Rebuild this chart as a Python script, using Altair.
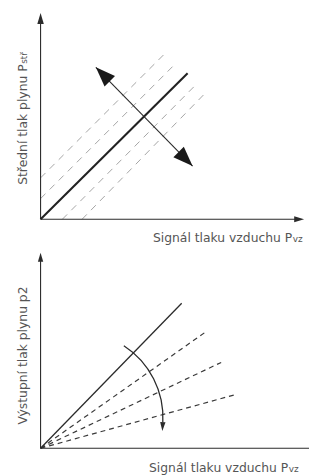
import altair as alt
import pandas as pd
import numpy as np

# ---------------- data (diagram units, origin = axes crossing, y up) ----------------
# Upper diagram: mean gas pressure vs. air pressure signal
top_axis_x_tip = 267
top_axis_y_tip = 209
top_solid_x = [0, 149]
top_solid_y = [0, 148]
top_dash_x0 = [0, 0, 22, 42]
top_dash_y0 = [42, 21, 0, 0]
top_dash_x1 = [125, 137, 159, 168]
top_dash_y1 = [167, 158, 138, 129]
top_shift_x = [56, 154]          # double-headed arrow (parallel shift)
top_shift_y = [154, 54]
top_xlabel, top_xlabel_sub = "Signál tlaku vzduchu P", "vz"
top_ylabel, top_ylabel_sub = "Střední tlak plynu P", "stř"

# Lower diagram: outlet gas pressure vs. air pressure signal
bot_axis_x_tip = 272
bot_axis_y_tip = 198
bot_solid_x = [0, 143]
bot_solid_y = [0, 147]
bot_dash_x1 = [166, 183, 196]
bot_dash_y1 = [117, 87, 54]
bot_arc_center = [37, 31]
bot_arc_radius = 87
bot_arc_deg = [33, 93]           # clockwise from 12 o'clock
bot_xlabel, bot_xlabel_sub = "Signál tlaku vzduchu P", "vz"
bot_ylabel = "Výstupní tlak plynu p2"

# ---------------- layout ----------------
W = 302
TOP_H, BOT_H = 236, 232
X_DOM = [-33, 269]
TOP_Y_DOM = [-25, 211]
BOT_Y_DOM = [-26, 206]

AX = "#2b2b2b"
TXT = "#555555"
FONT = "DejaVu Sans"
ARROW = "M0,0L0.6,2L-0.6,2Z"        # tip at origin, pointing up
ARROW_WIDE = "M0,0L0.75,2L-0.75,2Z"


def sx():
    return alt.Scale(domain=X_DOM, nice=False, zero=False)


def sy(dom):
    return alt.Scale(domain=dom, nice=False, zero=False)


def rules(df, ydom, **kw):
    return alt.Chart(df).mark_rule(**kw).encode(
        x=alt.X("x:Q", scale=sx(), axis=None),
        y=alt.Y("y:Q", scale=sy(ydom), axis=None),
        x2="x2:Q", y2="y2:Q")


def heads(df, ydom, shape=ARROW, color=AX):
    return alt.Chart(df).mark_point(shape=shape, filled=True, color=color, opacity=1).encode(
        x=alt.X("x:Q", scale=sx(), axis=None),
        y=alt.Y("y:Q", scale=sy(ydom), axis=None),
        angle=alt.Angle("angle:Q", scale=None),
        size=alt.Size("size:Q", scale=None, legend=None))


def text(df, ydom, **kw):
    return alt.Chart(df).mark_text(font=FONT, color=TXT, **kw).encode(
        x=alt.X("x:Q", scale=sx(), axis=None),
        y=alt.Y("y:Q", scale=sy(ydom), axis=None),
        text="t:N")


# ---------------- upper panel ----------------
t_axes = pd.DataFrame({"x": [0, 0], "y": [0, 0],
                       "x2": [top_axis_x_tip - 6, 0], "y2": [0, top_axis_y_tip - 6]})
t_solid = pd.DataFrame({"x": [top_solid_x[0]], "y": [top_solid_y[0]],
                        "x2": [top_solid_x[1]], "y2": [top_solid_y[1]]})
t_dash = pd.DataFrame({"x": top_dash_x0, "y": top_dash_y0, "x2": top_dash_x1, "y2": top_dash_y1})
t_shift = pd.DataFrame({"x": [top_shift_x[0]], "y": [top_shift_y[0]],
                        "x2": [top_shift_x[1]], "y2": [top_shift_y[1]]})
t_axis_heads = pd.DataFrame({
    "x": [top_axis_x_tip, 0], "y": [0, top_axis_y_tip],
    "angle": [90, 0], "size": [10 ** 2, 11 ** 2]})
t_shift_heads = pd.DataFrame({
    "x": top_shift_x, "y": top_shift_y,
    "angle": [315, 135], "size": [20 ** 2, 20 ** 2]})

top = alt.layer(
    rules(t_dash, TOP_Y_DOM, color="#9a9a9a", strokeWidth=0.9, strokeDash=[7, 6]),
    rules(t_axes, TOP_Y_DOM, color=AX, strokeWidth=1.1),
    rules(t_solid, TOP_Y_DOM, color="#222222", strokeWidth=2.1),
    rules(t_shift, TOP_Y_DOM, color=AX, strokeWidth=1.1),
    heads(t_axis_heads, TOP_Y_DOM),
    heads(t_shift_heads, TOP_Y_DOM, shape=ARROW_WIDE, color="#1a1a1a"),
    text(pd.DataFrame({"x": [255], "y": [-23], "t": [top_xlabel]}), TOP_Y_DOM,
         fontSize=12.5, align="right", baseline="alphabetic"),
    text(pd.DataFrame({"x": [255.5], "y": [-23], "t": [top_xlabel_sub]}), TOP_Y_DOM,
         fontSize=9, align="left", baseline="alphabetic"),
    text(pd.DataFrame({"x": [-14], "y": [157], "t": [top_ylabel]}), TOP_Y_DOM,
         fontSize=12.5, align="right", baseline="alphabetic", angle=270),
    text(pd.DataFrame({"x": [-14], "y": [157.5], "t": [top_ylabel_sub]}), TOP_Y_DOM,
         fontSize=9, align="left", baseline="alphabetic", angle=270),
).properties(width=W, height=TOP_H)

# ---------------- lower panel ----------------
b_axes = pd.DataFrame({"x": [0, 0], "y": [0, 0],
                       "x2": [bot_axis_x_tip, 0], "y2": [0, bot_axis_y_tip - 5]})
b_solid = pd.DataFrame({"x": [bot_solid_x[0]], "y": [bot_solid_y[0]],
                        "x2": [bot_solid_x[1]], "y2": [bot_solid_y[1]]})
b_dash = pd.DataFrame({"x": [0] * len(bot_dash_x1), "y": [0] * len(bot_dash_y1),
                       "x2": bot_dash_x1, "y2": bot_dash_y1})
b_arc = pd.DataFrame({"x": [bot_arc_center[0]], "y": [bot_arc_center[1]]})

th_end = np.radians(bot_arc_deg[1])
end_x = bot_arc_center[0] + bot_arc_radius * np.sin(th_end)
end_y = bot_arc_center[1] + bot_arc_radius * np.cos(th_end)
head_len = 9
dir_deg = bot_arc_deg[1] + 90
tip_x = end_x + head_len * np.sin(np.radians(dir_deg))
tip_y = end_y + head_len * np.cos(np.radians(dir_deg))
b_heads = pd.DataFrame({"x": [0, tip_x], "y": [bot_axis_y_tip, tip_y],
                        "angle": [0, dir_deg], "size": [9 ** 2, head_len ** 2]})

arc = alt.Chart(b_arc).mark_arc(
    radius=bot_arc_radius, radius2=bot_arc_radius,
    theta=float(np.radians(bot_arc_deg[0])), theta2=float(np.radians(bot_arc_deg[1])),
    filled=False, stroke=AX, strokeWidth=1.3).encode(
    x=alt.X("x:Q", scale=sx(), axis=None),
    y=alt.Y("y:Q", scale=sy(BOT_Y_DOM), axis=None))

bottom = alt.layer(
    rules(b_dash, BOT_Y_DOM, color="#3a3a3a", strokeWidth=1.2, strokeDash=[5, 4]),
    rules(b_axes, BOT_Y_DOM, color=AX, strokeWidth=1.1),
    rules(b_solid, BOT_Y_DOM, color=AX, strokeWidth=1.3),
    arc,
    heads(b_heads, BOT_Y_DOM),
    text(pd.DataFrame({"x": [251], "y": [-24], "t": [bot_xlabel]}), BOT_Y_DOM,
         fontSize=12.5, align="right", baseline="alphabetic"),
    text(pd.DataFrame({"x": [251.5], "y": [-24], "t": [bot_xlabel_sub]}), BOT_Y_DOM,
         fontSize=9, align="left", baseline="alphabetic"),
    text(pd.DataFrame({"x": [-14], "y": [94], "t": [bot_ylabel]}), BOT_Y_DOM,
         fontSize=12.5, align="center", baseline="alphabetic", angle=270),
).properties(width=W, height=BOT_H)

chart = alt.vconcat(top, bottom, spacing=0).properties(padding=0).configure_view(strokeWidth=0)

chart.save("out.html", embed_options={"renderer": "svg", "actions": False})
